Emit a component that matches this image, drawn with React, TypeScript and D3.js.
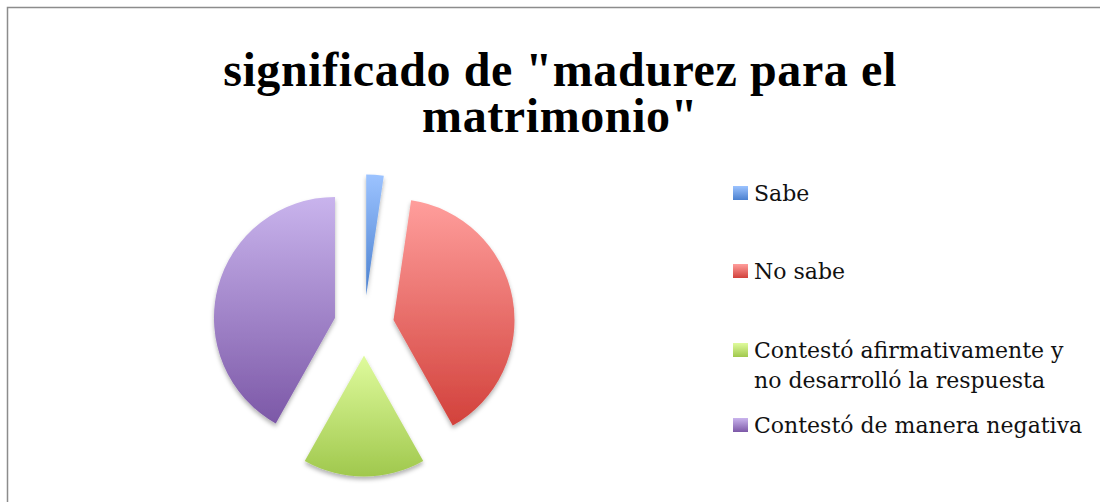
import * as d3 from 'd3';
import { useMemo } from 'react';

const categories = ['Sabe', 'No sabe', 'Contestó afirmativamente y no desarrolló la respuesta', 'Contestó de manera negativa'];
const legendLines = [['Sabe'], ['No sabe'], ['Contestó afirmativamente y', 'no desarrolló la respuesta'], ['Contestó de manera negativa']];
const values = [1, 17, 7, 18];
const titleLines = ['significado de "madurez para el', 'matrimonio"'];

// light (top) / dark (bottom) gradient stops per slice
const COLORS = [
  { top: '#9cc3ff', bottom: '#4a80cf' },
  { top: '#ff9e9c', bottom: '#d2413b' },
  { top: '#dffb9d', bottom: '#a0c84d' },
  { top: '#c9b4ed', bottom: '#7c58a7' },
];

const WIDTH = 1100;
const HEIGHT = 502;
const CENTER = { x: 364, y: 325.5 };
const RADIUS = 121;
const EXPLODE = 30;
const LEGEND = { x: 733, textX: 754, baselines: [201, 279, 358, 433], lineGap: 30, box: 15 };

export default function App() {
  const arcs = useMemo(() => d3.pie<number>().sort(null).value(d => d)(values), []);
  const arcGen = d3.arc<d3.PieArcDatum<number>>().innerRadius(0).outerRadius(RADIUS);

  const slices = arcs.map((a, i) => {
    const mid = (a.startAngle + a.endAngle) / 2;
    const dx = Math.sin(mid) * EXPLODE;
    const dy = -Math.cos(mid) * EXPLODE;
    return (
      <path
        key={categories[i]}
        d={arcGen(a) || ''}
        transform={`translate(${CENTER.x + dx},${CENTER.y + dy})`}
        fill={`url(#grad-${i})`}
        filter="url(#shadow)"
      />
    );
  });

  const legend = legendLines.map((lines, i) => {
    const base = LEGEND.baselines[i];
    return (
      <g key={categories[i]}>
        <rect x={LEGEND.x} y={base - 15} width={LEGEND.box} height={LEGEND.box - 1} fill={`url(#grad-${i})`} />
        {lines.map((ln, j) => (
          <text key={j} x={LEGEND.textX} y={base + j * LEGEND.lineGap} fontSize={22}
            fontFamily="'DejaVu Serif', serif" fill="#111">
            {ln}
          </text>
        ))}
      </g>
    );
  });

  return (
    <svg width={WIDTH} height={HEIGHT} style={{ position: 'absolute', left: 0, top: 0, display: 'block' }}>
      <defs>
        {COLORS.map((c, i) => (
          <linearGradient key={i} id={`grad-${i}`} x1="0" y1="0" x2="0" y2="1">
            <stop offset="0%" stopColor={c.top} />
            <stop offset="100%" stopColor={c.bottom} />
          </linearGradient>
        ))}
        <filter id="shadow" x="-20%" y="-20%" width="140%" height="140%">
          <feDropShadow dx="0" dy="3" stdDeviation="2" floodColor="#000" floodOpacity="0.3" />
        </filter>
      </defs>
      <rect width={WIDTH} height={HEIGHT} fill="#fff" />
      <rect x={7.5} y={7.5} width={WIDTH + 20} height={HEIGHT + 20} fill="none" stroke="#8c8c8c" strokeWidth={1.5} />
      {titleLines.map((t, i) => (
        <text key={i} x={560} y={86 + i * 46} textAnchor="middle" fontSize={48} fontWeight="bold"
          letterSpacing={0.6} fontFamily="'Liberation Serif', serif" fill="#000">
          {t}
        </text>
      ))}
      {slices}
      {legend}
    </svg>
  );
}
